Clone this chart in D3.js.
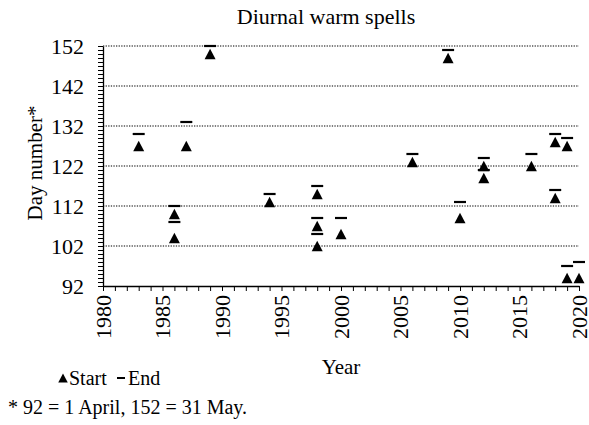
<!DOCTYPE html>
<html>
<head>
<meta charset="utf-8">
<script src="https://cdn.jsdelivr.net/npm/d3@7"></script>
<style>
  body { margin: 0; background: #fff; }
  text { font-family: "Liberation Serif", "Times New Roman", serif; fill: #000; }
</style>
</head>
<body>
<script>
// chart data
const spellYears = [1983, 1986, 1986, 1987, 1989, 1994, 1998, 1998, 1998, 2000, 2006,
                    2009, 2010, 2012, 2012, 2016, 2018, 2018, 2019, 2019, 2020];
const startDays = [127, 104, 110, 127, 150, 113, 102, 107, 115, 105, 123,
                   149, 109, 119, 122, 122, 114, 128, 94, 127, 94];
const endDays = [130, 108, 112, 133, 152, 115, 105, 109, 117, 109, 125,
                 151, 113, 121, 124, 125, 116, 130, 97, 129, 98];
const yearTicks = [1980, 1985, 1990, 1995, 2000, 2005, 2010, 2015, 2020];
const dayTicks = [92, 102, 112, 122, 132, 142, 152];

// sizes (note: "top" is taken by window.top, so plot_* names)
var svg_width = 589;
var svg_height = 425;
var plot_left = 103, plot_right = 579, plot_top = 46, plot_bottom = 286;

const svg = d3.select('body')
    .append('svg')
    .attr("width", `${svg_width}px`)
    .attr("height", `${svg_height}px`);

const x = d3.scaleLinear().domain([1980, 2020]).range([plot_left, plot_right]);
const y = d3.scaleLinear().domain([92, 152]).range([plot_bottom, plot_top]);

// triangle centred on its bounding box (like the spreadsheet marker)
const boxTriangle = {
    draw(ctx, size) {
        const w = Math.sqrt(size) / 2, h = w * 0.95;
        ctx.moveTo(0, -h);
        ctx.lineTo(w, h);
        ctx.lineTo(-w, h);
        ctx.closePath();
    }
};

// dotted grid lines
svg.append('g')
    .selectAll('line')
    .data(dayTicks.slice(1))
    .enter().append('line')
    .attr('x1', plot_left).attr('x2', plot_right)
    .attr('y1', d => y(d)).attr('y2', d => y(d))
    .attr('stroke', '#000')
    .attr('stroke-width', 1.2)
    .attr('stroke-dasharray', '1.3,1.3');

// y axis: a minor tick for every day, labels every 10
const yAxis = svg.append('g')
    .attr('transform', `translate(${plot_left},0)`)
    .call(d3.axisLeft(y).tickValues(d3.range(92, 153)).tickSize(5).tickSizeOuter(0).tickFormat(''));
yAxis.select('.domain').attr('stroke-width', 1.3);
yAxis.selectAll('line').attr('stroke-width', 1);

svg.append('g').selectAll('text')
    .data(dayTicks)
    .enter().append('text')
    .attr('x', 84)
    .attr('y', d => y(d))
    .attr('dy', '0.35em')
    .attr('text-anchor', 'end')
    .style('font-size', '22px')
    .text(d => d);

// x axis: tick every year, labels every 5
const xAxis = svg.append('g')
    .attr('transform', `translate(0,${plot_bottom})`)
    .call(d3.axisBottom(x).tickValues(d3.range(1980, 2021)).tickSize(5).tickSizeOuter(0).tickFormat(''));
xAxis.select('.domain').attr('stroke-width', 1.3);
xAxis.selectAll('line').attr('stroke-width', 1);

svg.append('g').selectAll('text')
    .data(yearTicks)
    .enter().append('text')
    .attr('transform', d => `translate(${x(d)},295) rotate(-90)`)
    .attr('dy', '0.35em')
    .attr('text-anchor', 'end')
    .style('font-size', '22px')
    .text(d => d);

// end markers (short dashes)
svg.append('g').selectAll('line')
    .data(spellYears)
    .enter().append('line')
    .attr('x1', (d) => x(d) - 6)
    .attr('x2', (d) => x(d) + 6)
    .attr('y1', (d, i) => y(endDays[i]))
    .attr('y2', (d, i) => y(endDays[i]))
    .attr('stroke', '#000')
    .attr('stroke-width', 2.2);

// start markers (triangles)
const triangle = d3.symbol().type(boxTriangle).size(121);
svg.append('g').selectAll('path')
    .data(spellYears)
    .enter().append('path')
    .attr('d', triangle)
    .attr('transform', (d, i) => `translate(${x(d)},${y(startDays[i])})`)
    .attr('fill', '#000');

// titles
svg.append('text')
    .attr('x', 326).attr('y', 24)
    .attr('text-anchor', 'middle')
    .style('font-size', '22px')
    .text('Diurnal warm spells');

svg.append('text')
    .attr('x', 341).attr('y', 374)
    .attr('text-anchor', 'middle')
    .style('font-size', '21px')
    .text('Year');

svg.append('text')
    .attr('transform', `translate(42,${(plot_top + plot_bottom) / 2 - 3}) rotate(-90)`)
    .attr('text-anchor', 'middle')
    .style('font-size', '21px')
    .text('Day number*');

// legend
const legend = svg.append('g');
legend.append('path')
    .attr('d', d3.symbol().type(boxTriangle).size(90))
    .attr('transform', 'translate(63,378)')
    .attr('fill', '#000');
legend.append('text')
    .attr('x', 69).attr('y', 385)
    .style('font-size', '20px')
    .text('Start');
legend.append('line')
    .attr('x1', 117).attr('x2', 125)
    .attr('y1', 378).attr('y2', 378)
    .attr('stroke', '#000')
    .attr('stroke-width', 2);
legend.append('text')
    .attr('x', 128).attr('y', 385)
    .style('font-size', '20px')
    .text('End');

// footnote
svg.append('text')
    .attr('x', 8).attr('y', 414)
    .style('font-size', '20px')
    .text('* 92 = 1 April, 152 = 31 May.');
</script>
</body>
</html>
